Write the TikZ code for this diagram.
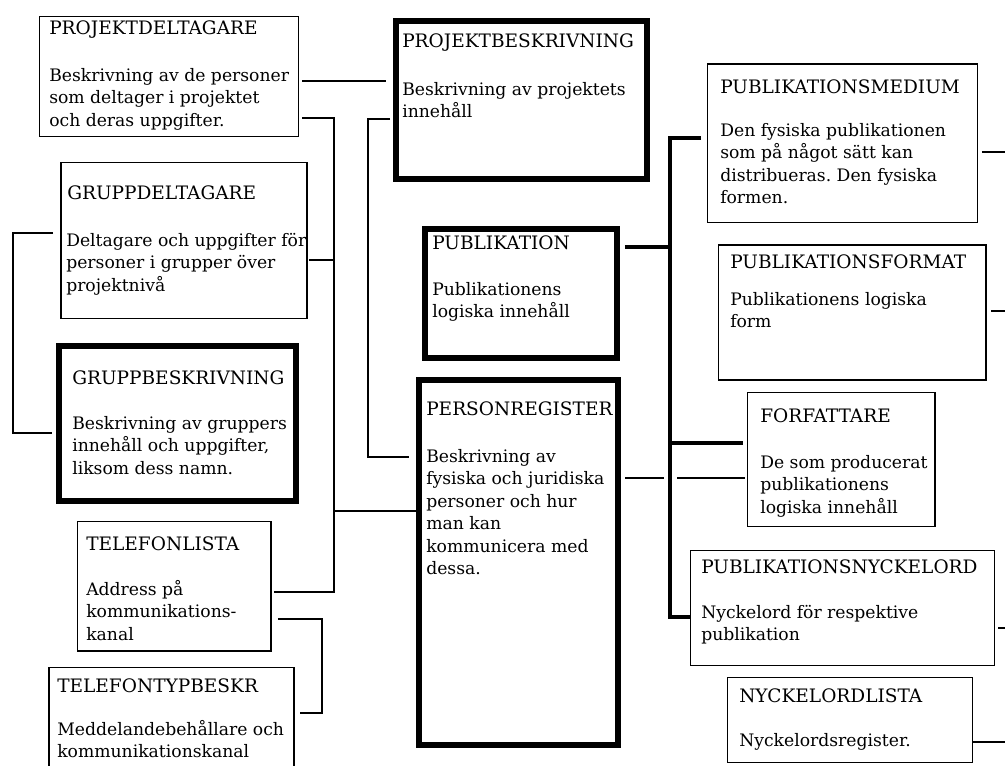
\documentclass[tikz,border=0pt]{standalone}
\usepackage{fontspec}
\setmainfont{DejaVu Serif}
\frenchspacing
% several text lines, aligned on the baseline of the first one
\newcommand\txtlines[1]{\begin{tabular}[t]{@{}l@{}}#1\end{tabular}}
\tikzset{
  sz/.style 2 args={minimum width=#1*0.75pt, minimum height=#2*0.75pt},
  thinbox/.style={draw, line width=1.1pt, inner sep=0pt, outer sep=0pt, fill=white},
  thickbox/.style={draw, line width=4.35pt, inner sep=0pt, outer sep=0pt, fill=white},
  head/.style={inner sep=0pt, anchor=base west, font=\fontsize{13.9pt}{16.9pt}\selectfont},
  body/.style={inner sep=0pt, anchor=base west, font=\fontsize{12.9pt}{16.9pt}\selectfont},
  conn/.style={line width=1.1pt},
  busline/.style={line width=3pt},
  gap/.style={draw=white, line width=9.75pt},
}
\begin{document}
\begin{tikzpicture}[x=0.75pt, y=-0.75pt]
\useasboundingbox (0,0) rectangle (1005,765);
\fill[white] (0,0) rectangle (1005,765);
\clip (0,0) rectangle (1005,765);

% ---- entity boxes ----
\node[thinbox,  sz={258.7}{120.2}] (pd)  at (169,76.6)    {};
\node[thinbox,  sz={246}{156}]     (gd)  at (184,240.3)   {};
\node[thickbox, sz={237.2}{155.2}] (gb)  at (177.5,423.5) {};
\node[thinbox,  sz={193.3}{129.3}] (tl)  at (174.3,586.3) {};
\node[thinbox,  sz={245}{132.5}]   (tt)  at (171.3,733.8) {};
\node[thickbox, sz={251.2}{158.2}] (pb)  at (521.5,100)   {};
\node[thickbox, sz={192.2}{129.2}] (pub) at (521,293.5)   {};
\node[thickbox, sz={199.2}{365.2}] (pr)  at (518.5,562.5) {};
\node[thinbox,  sz={270.4}{158.7}] (pm)  at (842.5,143.4) {};
\node[thinbox,  sz={267.7}{135}]   (pf)  at (852.2,312.5) {};
\node[thinbox,  sz={187.3}{134}]   (fo)  at (841.3,459.7) {};
\node[thinbox,  sz={303.6}{115}]   (pn)  at (842.5,608.2) {};
\node[thinbox,  sz={245.4}{85}]    (nl)  at (850,720.2)   {};

% ---- box texts ----
\node[head] (pd-h) at (49,34) {PROJEKTDELTAGARE};
\node[body] (pd-b) at (49,81) {\txtlines{Beskrivning av de personer\\som deltager i projektet\\och deras uppgifter.}};
\node[head] (gd-h) at (67,199) {GRUPPDELTAGARE};
\node[body] (gd-b) at (66,246) {\txtlines{Deltagare och uppgifter för\\personer i grupper över\\projektnivå}};
\node[head] (gb-h) at (72,384) {GRUPPBESKRIVNING};
\node[body] (gb-b) at (72,429) {\txtlines{Beskrivning av gruppers\\innehåll och uppgifter,\\liksom dess namn.}};
\node[head] (tl-h) at (86,550) {TELEFONLISTA};
\node[body] (tl-b) at (86,595) {\txtlines{Address på\\kommunikations-\\kanal}};
\node[head] (tt-h) at (57,692) {TELEFONTYPBESKR};
\node[body] (tt-b) at (57,735) {\txtlines{Meddelandebehållare och\\kommunikationskanal}};
\node[head] (pb-h) at (402,47) {PROJEKTBESKRIVNING};
\node[body] (pb-b) at (402,95) {\txtlines{Beskrivning av projektets\\innehåll}};
\node[head] (pub-h) at (432,249) {PUBLIKATION};
\node[body] (pub-b) at (432,295) {\txtlines{Publikationens\\logiska innehåll}};
\node[head] (pr-h) at (426,415) {PERSONREGISTER};
\node[body] (pr-b) at (426,462) {\txtlines{Beskrivning av\\fysiska och juridiska\\personer och hur\\man kan\\kommunicera med\\dessa.}};
\node[head] (pm-h) at (720,93) {PUBLIKATIONSMEDIUM};
\node[body] (pm-b) at (720,136) {\txtlines{Den fysiska publikationen\\som på något sätt kan\\distribueras. Den fysiska\\formen.}};
\node[head] (pf-h) at (730,268) {PUBLIKATIONSFORMAT};
\node[body] (pf-b) at (730,305) {\txtlines{Publikationens logiska\\form}};
\node[head] (fo-h) at (760,422) {FORFATTARE};
\node[body] (fo-b) at (760,468) {\txtlines{De som producerat\\publikationens\\logiska innehåll}};
\node[head] (pn-h) at (701,573) {PUBLIKATIONSNYCKELORD};
\node[body] (pn-b) at (701,618) {\txtlines{Nyckelord för respektive\\publikation}};
\node[head] (nl-h) at (739,702) {NYCKELORDLISTA};
\node[body] (nl-b) at (739,746) {\txtlines{Nyckelordsregister.}};

% ---- routing columns ----
\coordinate (busG) at (13,0);
\coordinate (busT) at (322,0);
\coordinate (busL) at (334,0);
\coordinate (busM) at (368,0);
\coordinate (busR) at (670,0);
\coordinate (edgeR) at (1010,0);

% ---- thin connectors, left half ----
\draw[conn, shorten <=2.8pt, shorten >=7.4pt] (pd.east |- 0,81) -- (pb.west |- 0,81);
\draw[conn, shorten <=2.8pt] (pd.east |- 0,118) -| (busL |- 0,511) -- (pr.west |- 0,511);
\draw[conn, shorten <=1.5pt] (gd.east |- 0,260) -- (busL |- 0,260);
\draw[conn, shorten <=2.25pt] (tl.east |- 0,592) -| (busL |- 0,511);
\draw[conn, shorten <=4.4pt, shorten >=7.4pt] (pb.west |- 0,119) -| (busM |- 0,457) -- (pr.west |- 0,457);
\draw[conn, shorten <=6pt, shorten >=5.2pt] (gd.west |- 0,233) -| (busG |- 0,433) -- (gb.west |- 0,433);
\draw[conn, shorten <=5.25pt, shorten >=4.65pt] (tl.east |- 0,619) -| (busT |- 0,713) -- (tt.east |- 0,713);

% ---- person register to author, hopping under the thick bus ----
\draw[conn, shorten <=5.2pt, shorten >=2pt] (pr.east |- 0,478) -- (fo.west |- 0,478);
\draw[gap] (busR |- 0,138) -- (busR |- 0,617);

% ---- thick publication bus ----
\draw[busline, shorten <=5.9pt] (pub.east |- 0,247) -- (busR |- 0,247);
\draw[busline, shorten <=4.7pt] (pm.west |- 0,138) -| (busR |- 0,617) -- (pn.west |- 0,617);
\draw[busline, shorten >=3.5pt] (busR |- 0,443) -- (fo.west |- 0,443);

% ---- links leaving on the right ----
\draw[conn, shorten <=3.2pt] (pm.east |- 0,152) -- (edgeR |- 0,152);
\draw[conn, shorten <=3.75pt] (pf.east |- 0,311) -- (edgeR |- 0,311);
\draw[conn, shorten <=2.8pt] (pn.east |- 0,628) -- (edgeR |- 0,628);
\draw[conn] (nl.east |- 0,742) -- (edgeR |- 0,742);
\end{tikzpicture}
\end{document}
